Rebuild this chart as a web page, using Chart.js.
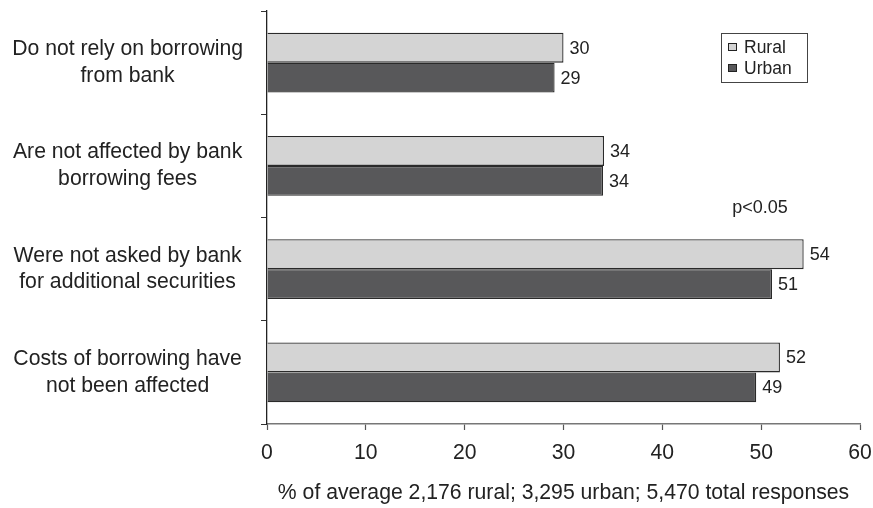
<!DOCTYPE html>
<html>
<head>
<meta charset="utf-8">
<script src="https://cdn.jsdelivr.net/npm/chart.js@4.4.1/dist/chart.umd.min.js"></script>
<style>
  html, body { margin: 0; padding: 0; background: #fff; }
  #wrap { width: 873px; height: 508px; }
</style>
</head>
<body>
<div id="wrap"><canvas id="myChart" width="873" height="508"></canvas></div>
<script>
const categories = [
  ['Do not rely on borrowing', 'from bank'],
  ['Are not affected by bank', 'borrowing fees'],
  ['Were not asked by bank', 'for additional securities'],
  ['Costs of borrowing have', 'not been affected']
]
const ruralValues = [30.0, 34.1, 54.3, 51.9]
const urbanValues = [29.1, 34.0, 51.1, 49.5]
const ruralLabels = ['30', '34', '54', '52']
const urbanLabels = ['29', '34', '51', '49']
const xTicks = [0, 10, 20, 30, 40, 50, 60]
const axisTitle = '% of average 2,176 rural; 3,295 urban; 5,470 total responses'
const note = 'p<0.05'

const fontName = '"Liberation Sans", Arial, sans-serif'

// value text at the end of each bar
const barLabels = {
  id: 'barLabels',
  afterDatasetsDraw(chart) {
    const ctx = chart.ctx
    ctx.save()
    ctx.font = '18px ' + fontName
    ctx.fillStyle = '#222'
    ctx.textAlign = 'left'
    ctx.textBaseline = 'middle'
    chart.data.datasets.forEach((ds, i) => {
      chart.getDatasetMeta(i).data.forEach((bar, j) => {
        ctx.fillText(ds.valueLabels[j], bar.x + 6, bar.y + 1)
      })
    })
    ctx.restore()
  }
}

// boxed legend + p-value note
const boxLegend = {
  id: 'boxLegend',
  afterDraw(chart) {
    const ctx = chart.ctx
    const x = 721, y = 33, w = 86, h = 49
    ctx.save()
    ctx.strokeStyle = '#444'
    ctx.lineWidth = 1
    ctx.strokeRect(x + 0.5, y + 0.5, w, h)
    ctx.font = '17.5px ' + fontName
    ctx.textBaseline = 'middle'
    chart.data.datasets.forEach((ds, i) => {
      const cy = y + 14 + i * 21
      ctx.fillStyle = ds.backgroundColor
      ctx.fillRect(x + 7, cy - 4, 9, 8)
      ctx.strokeStyle = '#222'
      ctx.strokeRect(x + 7.5, cy - 3.5, 8, 7)
      ctx.fillStyle = '#222'
      ctx.fillText(ds.label, x + 23, cy + 1)
    })
    ctx.font = '18px ' + fontName
    ctx.textAlign = 'center'
    ctx.fillText(note, 760, 208)
    ctx.restore()
  }
}

const ctx = document.getElementById('myChart')
const myChart = new Chart(ctx, {
  type: 'bar',
  data: {
    labels: categories,
    datasets: [{
      label: 'Rural',
      data: ruralValues,
      valueLabels: ruralLabels,
      backgroundColor: '#d4d4d4',
      borderColor: '#2a2a2a',
      borderWidth: 1.3,
      borderSkipped: 'start'
    }, {
      label: 'Urban',
      data: urbanValues,
      valueLabels: urbanLabels,
      backgroundColor: '#58585a',
      borderColor: '#2a2a2a',
      borderWidth: 1.3,
      borderSkipped: 'start'
    }]
  },
  options: {
    indexAxis: 'y',
    responsive: false,
    animation: false,
    layout: { padding: { top: 11, right: 13, bottom: 0, left: 0 } },
    plugins: {
      legend: { display: false },
      tooltip: { enabled: false }
    },
    datasets: {
      bar: { categoryPercentage: 0.58, barPercentage: 1.0 }
    },
    scales: {
      x: {
        min: 0,
        max: 60,
        afterBuildTicks: (scale) => { scale.ticks = xTicks.map(v => ({ value: v })) },
        afterFit: (scale) => {
          scale.height = 84
          scale.paddingLeft = 0
          scale.paddingRight = 0
        },
        border: { color: '#777', width: 1.5 },
        grid: { drawOnChartArea: false, tickLength: 6, color: '#555', tickWidth: 1.2 },
        ticks: { color: '#222', padding: 10, font: { family: fontName, size: 21.2 } },
        title: {
          display: true,
          text: axisTitle,
          color: '#222',
          padding: { top: 4, bottom: 2 },
          font: { family: fontName, size: 21.2 }
        }
      },
      y: {
        afterFit: (scale) => {
          scale.width = 267
          scale.paddingTop = 0
          scale.paddingBottom = 0
        },
        border: { color: '#222', width: 1.3 },
        grid: { drawOnChartArea: false, tickLength: 6, color: '#333', offset: true },
        ticks: {
          color: '#222',
          padding: 18,
          crossAlign: 'center',
          font: { family: fontName, size: 21.2, lineHeight: 1.27 }
        }
      }
    }
  },
  plugins: [barLabels, boxLegend]
})
</script>
</body>
</html>
